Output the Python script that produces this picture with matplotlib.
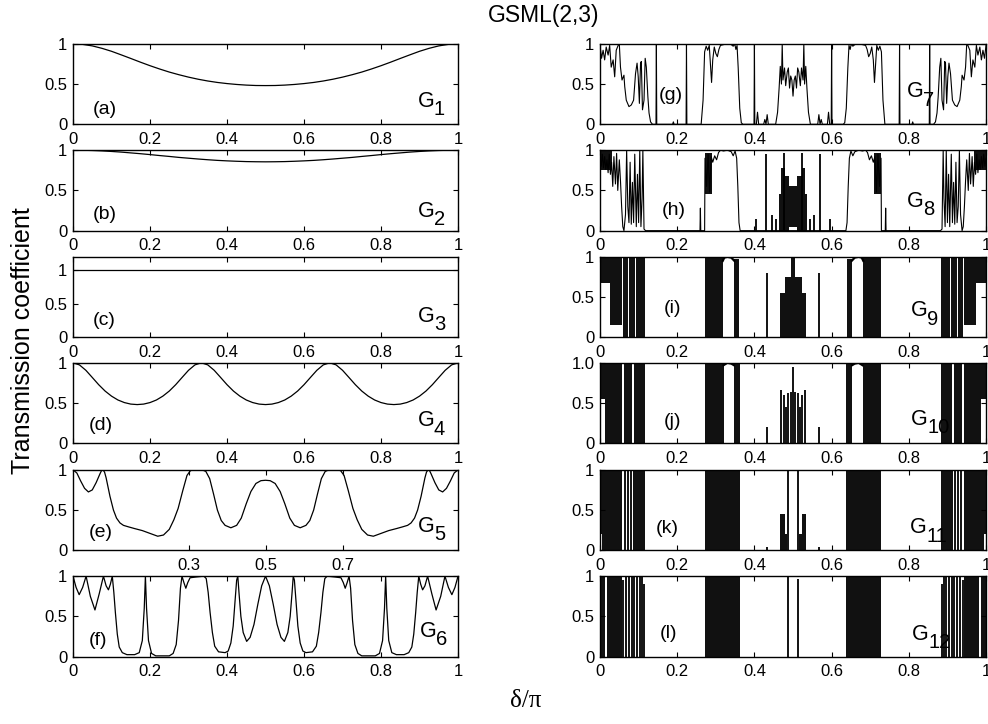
import numpy as np
import matplotlib
matplotlib.use("Agg")
import matplotlib.pyplot as plt

plt.rcParams["font.family"] = ["Liberation Sans", "DejaVu Sans"]
plt.rcParams["font.size"] = 12

# ---------------- data ----------------
# left column: smooth transmission curves G1..G6
a_x = np.linspace(0, 1, 41)
a_y = [1.000, 0.993, 0.974, 0.944, 0.907, 0.863, 0.818, 0.772, 0.728, 0.687,
       0.649, 0.616, 0.586, 0.560, 0.538, 0.520, 0.506, 0.495, 0.487, 0.482,
       0.481, 0.482, 0.487, 0.495, 0.506, 0.520, 0.538, 0.560, 0.586, 0.616,
       0.649, 0.687, 0.728, 0.772, 0.818, 0.863, 0.907, 0.944, 0.974, 0.993,
       1.000]

b_x = np.linspace(0, 1, 41)
b_y = [1.000, 0.999, 0.996, 0.991, 0.984, 0.976, 0.966, 0.956, 0.945, 0.933,
       0.922, 0.910, 0.900, 0.890, 0.881, 0.873, 0.867, 0.862, 0.858, 0.856,
       0.855, 0.856, 0.858, 0.862, 0.867, 0.873, 0.881, 0.890, 0.900, 0.910,
       0.922, 0.933, 0.945, 0.956, 0.966, 0.976, 0.984, 0.991, 0.996, 0.999,
       1.000]

c_x = [0.0, 1.0]
c_y = [1.0, 1.0]

d_x = np.linspace(0, 1, 61)
d_y = [1.000, 0.974, 0.907, 0.818, 0.728, 0.649, 0.586, 0.538, 0.506, 0.487,
       0.481, 0.487, 0.506, 0.538, 0.586, 0.649, 0.728, 0.818, 0.907, 0.974,
       1.000, 0.974, 0.907, 0.818, 0.728, 0.649, 0.586, 0.538, 0.506, 0.487,
       0.481, 0.487, 0.506, 0.538, 0.586, 0.649, 0.728, 0.818, 0.907, 0.974,
       1.000, 0.974, 0.907, 0.818, 0.728, 0.649, 0.586, 0.538, 0.506, 0.487,
       0.481, 0.487, 0.506, 0.538, 0.586, 0.649, 0.728, 0.818, 0.907, 0.974,
       1.000]

e_x = [0.000, 0.010, 0.020, 0.030, 0.040, 0.050, 0.060, 0.070, 0.074, 0.078,
       0.082, 0.086, 0.096, 0.105, 0.113, 0.122, 0.131, 0.145, 0.160, 0.180,
       0.200, 0.220, 0.235, 0.250, 0.262, 0.273, 0.285, 0.296, 0.305, 0.315,
       0.335, 0.345, 0.355, 0.365, 0.375, 0.385, 0.395, 0.410, 0.425, 0.437,
       0.450, 0.462, 0.475, 0.488, 0.500,
       0.512, 0.525, 0.538, 0.550, 0.563, 0.575, 0.590, 0.605, 0.615, 0.625,
       0.635, 0.645, 0.655, 0.665, 0.685, 0.695, 0.704, 0.715, 0.727, 0.738,
       0.750, 0.765, 0.780, 0.800, 0.820, 0.840, 0.855, 0.869, 0.878, 0.887,
       0.895, 0.904, 0.914, 0.918, 0.922, 0.926, 0.930, 0.940, 0.950, 0.960,
       0.970, 0.980, 0.990, 1.000]
e_y = [1.00, 0.96, 0.86, 0.77, 0.725, 0.75, 0.84, 0.95, 0.99, 1.00,
       0.97, 0.90, 0.67, 0.50, 0.40, 0.34, 0.31, 0.29, 0.27, 0.245,
       0.21, 0.175, 0.19, 0.26, 0.38, 0.52, 0.74, 0.93, 0.99, 1.00,
       1.00, 0.98, 0.89, 0.70, 0.50, 0.37, 0.31, 0.28, 0.31, 0.40,
       0.58, 0.73, 0.83, 0.865, 0.87,
       0.865, 0.83, 0.73, 0.58, 0.40, 0.31, 0.28, 0.31, 0.37, 0.50,
       0.70, 0.89, 0.98, 1.00, 1.00, 0.99, 0.93, 0.74, 0.52, 0.38,
       0.26, 0.19, 0.175, 0.21, 0.245, 0.27, 0.29, 0.31, 0.34, 0.40,
       0.50, 0.67, 0.90, 0.97, 1.00, 0.99, 0.95, 0.84, 0.75, 0.725,
       0.77, 0.86, 0.96, 1.00]

f_x = [0.000, 0.008, 0.016, 0.025, 0.034, 0.045, 0.057, 0.068, 0.079, 0.086,
       0.092, 0.097, 0.102, 0.106, 0.110, 0.115, 0.120, 0.128, 0.140, 0.160,
       0.172, 0.180, 0.185, 0.188, 0.191, 0.196, 0.204, 0.215, 0.250, 0.260,
       0.268, 0.274, 0.279, 0.283, 0.288, 0.293, 0.298, 0.304, 0.320, 0.340,
       0.346, 0.351, 0.356, 0.362, 0.368, 0.378, 0.395, 0.403, 0.410, 0.416,
       0.421, 0.425, 0.428, 0.431, 0.436, 0.442, 0.451, 0.460, 0.470, 0.480,
       0.490, 0.500,
       0.510, 0.520, 0.530, 0.540, 0.549, 0.558, 0.564, 0.569, 0.572, 0.575,
       0.579, 0.584, 0.590, 0.597, 0.605, 0.622, 0.632, 0.638, 0.644, 0.649,
       0.654, 0.660, 0.680, 0.696, 0.702, 0.707, 0.712, 0.717, 0.721, 0.726,
       0.732, 0.740, 0.750, 0.785, 0.796, 0.804, 0.809, 0.812, 0.815, 0.820,
       0.828, 0.840, 0.860, 0.872, 0.880, 0.885, 0.890, 0.894, 0.898, 0.903,
       0.908, 0.914, 0.921, 0.932, 0.943, 0.955, 0.966, 0.975, 0.984, 0.992,
       1.000]
f_y = [1.00, 0.86, 0.77, 0.86, 1.00, 0.75, 0.58, 0.78, 1.00, 0.88,
       0.83, 0.90, 1.00, 0.80, 0.55, 0.28, 0.12, 0.05, 0.025, 0.025,
       0.05, 0.20, 0.60, 1.00, 0.60, 0.20, 0.04, 0.01, 0.01, 0.04,
       0.15, 0.45, 0.85, 1.00, 0.92, 0.85, 0.92, 0.98, 0.99, 1.00,
       0.97, 0.80, 0.55, 0.30, 0.13, 0.06, 0.05, 0.07, 0.17, 0.38,
       0.70, 0.95, 1.00, 0.80, 0.50, 0.30, 0.19, 0.24, 0.40, 0.65,
       0.88, 1.00,
       0.88, 0.65, 0.40, 0.24, 0.19, 0.30, 0.50, 0.80, 1.00, 0.95,
       0.70, 0.38, 0.17, 0.07, 0.05, 0.06, 0.13, 0.30, 0.55, 0.80,
       0.97, 1.00, 0.99, 0.98, 0.92, 0.85, 0.92, 1.00, 0.85, 0.45,
       0.15, 0.04, 0.01, 0.01, 0.04, 0.20, 0.60, 1.00, 0.60, 0.20,
       0.05, 0.025, 0.025, 0.05, 0.12, 0.28, 0.55, 0.80, 1.00, 0.90,
       0.83, 0.88, 1.00, 0.78, 0.58, 0.75, 1.00, 0.86, 0.77, 0.86,
       1.00]

# right column: G7..G12, traced outline (x, T)
g_trace = [
    (0.000, 0.98), (0.004, 0.82), (0.008, 0.92), (0.012, 0.80), (0.016, 0.96),
    (0.021, 0.86), (0.025, 0.98), (0.029, 0.71), (0.034, 0.80), (0.038, 0.59),
    (0.042, 0.92), (0.047, 0.98), (0.050, 1.00), (0.053, 0.71), (0.057, 0.55),
    (0.062, 0.61), (0.064, 0.47), (0.068, 0.30), (0.075, 0.22), (0.081, 0.24),
    (0.087, 0.30), (0.092, 0.63), (0.096, 0.76), (0.099, 0.59), (0.102, 0.26),
    (0.105, 0.76), (0.107, 0.78), (0.110, 0.18), (0.114, 0.30), (0.117, 0.82),
    (0.120, 0.71), (0.124, 0.34), (0.127, 0.14), (0.131, 0.03), (0.136, 0.00),
    (0.145, 0.00), (0.146, 1.00), (0.147, 0.00), (0.188, 0.00), (0.190, 0.03),
    (0.192, 0.00), (0.223, 0.00), (0.224, 1.00), (0.225, 0.00), (0.262, 0.00),
    (0.267, 0.30), (0.271, 0.90), (0.275, 0.97), (0.279, 0.92), (0.283, 0.98),
    (0.286, 0.75), (0.289, 0.52), (0.292, 0.80), (0.296, 0.96), (0.300, 0.88),
    (0.304, 0.84), (0.308, 0.93), (0.312, 0.98), (0.320, 0.99), (0.330, 1.00),
    (0.340, 0.99), (0.345, 0.97), (0.349, 1.00), (0.352, 0.93), (0.355, 0.98),
    (0.358, 0.70), (0.362, 0.20), (0.366, 0.02), (0.370, 0.00), (0.399, 0.00),
    (0.400, 1.00), (0.401, 0.00), (0.405, 0.00), (0.408, 0.15), (0.411, 0.00),
    (0.424, 0.00), (0.427, 0.06), (0.430, 0.00), (0.433, 0.12), (0.436, 0.00),
    (0.455, 0.00), (0.460, 0.15), (0.464, 0.45), (0.467, 0.72), (0.470, 0.50),
    (0.472, 1.00), (0.474, 0.55), (0.478, 0.70), (0.481, 0.48), (0.485, 0.65),
    (0.488, 0.70), (0.491, 0.45), (0.494, 0.60), (0.497, 0.55), (0.500, 0.35),
    (0.503, 0.55), (0.506, 0.60), (0.509, 0.45), (0.512, 0.70), (0.515, 0.65),
    (0.519, 0.48), (0.522, 0.70), (0.526, 0.55), (0.528, 1.00), (0.530, 0.50),
    (0.533, 0.72), (0.536, 0.45), (0.540, 0.15), (0.545, 0.00), (0.564, 0.00),
    (0.567, 0.12), (0.570, 0.00), (0.573, 0.06), (0.576, 0.00), (0.589, 0.00),
    (0.592, 0.15), (0.595, 0.00), (0.599, 0.00), (0.600, 1.00), (0.601, 0.00),
    (0.630, 0.00), (0.634, 0.02), (0.638, 0.20), (0.642, 0.70), (0.645, 0.98),
    (0.648, 0.93), (0.651, 1.00), (0.655, 0.97), (0.660, 0.99), (0.670, 1.00),
    (0.680, 0.99), (0.688, 0.98), (0.692, 0.93), (0.696, 0.84), (0.700, 0.88),
    (0.704, 0.96), (0.708, 0.80), (0.711, 0.52), (0.714, 0.75), (0.717, 0.98),
    (0.721, 0.92), (0.725, 0.97), (0.729, 0.90), (0.733, 0.30), (0.738, 0.00),
    (0.775, 0.00), (0.776, 1.00), (0.777, 0.00), (0.808, 0.00), (0.810, 0.03),
    (0.812, 0.00), (0.853, 0.00), (0.854, 1.00), (0.855, 0.00), (0.864, 0.00),
    (0.869, 0.03), (0.873, 0.14), (0.876, 0.34), (0.880, 0.71), (0.883, 0.82),
    (0.886, 0.30), (0.890, 0.18), (0.893, 0.78), (0.895, 0.76), (0.898, 0.26),
    (0.901, 0.59), (0.904, 0.76), (0.908, 0.63), (0.913, 0.30), (0.919, 0.24),
    (0.925, 0.22), (0.932, 0.30), (0.936, 0.47), (0.938, 0.61), (0.943, 0.55),
    (0.947, 0.71), (0.950, 1.00), (0.953, 0.98), (0.958, 0.92), (0.962, 0.59),
    (0.966, 0.80), (0.971, 0.71), (0.975, 0.98), (0.979, 0.86), (0.984, 0.96),
    (0.988, 0.80), (0.992, 0.92), (0.996, 0.82), (1.000, 0.98)]

h_trace = [
    (0.000, 0.90), (0.003, 0.80), (0.006, 0.95), (0.009, 0.78), (0.012, 0.92),
    (0.015, 0.76), (0.018, 0.88), (0.021, 0.72), (0.024, 0.95), (0.027, 0.70),
    (0.030, 0.85), (0.033, 0.55), (0.036, 0.92), (0.040, 0.58), (0.043, 0.96),
    (0.046, 0.50), (0.050, 0.88), (0.053, 0.62), (0.056, 0.30), (0.059, 0.05),
    (0.062, 0.00), (0.066, 0.20), (0.069, 1.00), (0.072, 0.30), (0.075, 0.10),
    (0.078, 0.85), (0.081, 0.08), (0.084, 0.60), (0.087, 0.10), (0.090, 0.95),
    (0.094, 0.05), (0.097, 0.70), (0.100, 0.10), (0.103, 1.00), (0.106, 0.05),
    (0.109, 0.40), (0.111, 1.00), (0.114, 0.02), (0.118, 0.00),
    (0.259, 0.00), (0.260, 0.28), (0.261, 0.00),
    (0.271, 0.00), (0.272, 0.90), (0.276, 0.55), (0.280, 0.95), (0.284, 0.48),
    (0.288, 0.92), (0.292, 0.85), (0.297, 0.93), (0.302, 0.88), (0.307, 0.97),
    (0.312, 1.00), (0.320, 0.99), (0.330, 1.00), (0.340, 0.98), (0.345, 0.93),
    (0.350, 0.99), (0.354, 0.90), (0.357, 0.55), (0.360, 0.10), (0.363, 0.00),
    (0.637, 0.00), (0.640, 0.10), (0.643, 0.55), (0.646, 0.90), (0.650, 0.99),
    (0.655, 0.93), (0.660, 0.98), (0.670, 1.00), (0.680, 0.99), (0.688, 1.00),
    (0.693, 0.97), (0.698, 0.88), (0.703, 0.93), (0.708, 0.85), (0.712, 0.92),
    (0.716, 0.48), (0.720, 0.95), (0.724, 0.55), (0.728, 0.90), (0.729, 0.00),
    (0.739, 0.00), (0.740, 0.28), (0.741, 0.00),
    (0.882, 0.00), (0.886, 0.02), (0.889, 1.00), (0.891, 0.40), (0.894, 0.05),
    (0.897, 1.00), (0.900, 0.10), (0.903, 0.70), (0.906, 0.05), (0.910, 0.95),
    (0.913, 0.10), (0.916, 0.60), (0.919, 0.08), (0.922, 0.85), (0.925, 0.10),
    (0.928, 0.30), (0.931, 1.00), (0.934, 0.20), (0.938, 0.00), (0.941, 0.05),
    (0.944, 0.30), (0.947, 0.62), (0.950, 0.88), (0.954, 0.50), (0.957, 0.96),
    (0.960, 0.58), (0.964, 0.92), (0.967, 0.55), (0.970, 0.85), (0.973, 0.70),
    (0.976, 0.95), (0.979, 0.72), (0.982, 0.88), (0.985, 0.76), (0.988, 0.92),
    (0.991, 0.78), (0.994, 0.95), (0.997, 0.80), (1.000, 0.90)]

# dense (near solid black) regions: (x_from, x_to, T_low, T_high)
h_bands = [(0.000, 0.030, 0.75, 1.00), (0.272, 0.290, 0.45, 0.97),
           (0.463, 0.470, 0.00, 0.45), (0.470, 0.478, 0.00, 0.78),
           (0.478, 0.490, 0.00, 0.68), (0.490, 0.510, 0.05, 0.55),
           (0.510, 0.522, 0.00, 0.68), (0.522, 0.530, 0.00, 0.78),
           (0.530, 0.537, 0.00, 0.45), (0.710, 0.728, 0.45, 0.97),
           (0.970, 1.000, 0.75, 1.00)]
i_bands = [(0.000, 0.025, 0.68, 1.00), (0.025, 0.058, 0.15, 1.00),
           (0.060, 0.073, 0.00, 1.00), (0.076, 0.090, 0.00, 1.00),
           (0.093, 0.116, 0.00, 1.00), (0.272, 0.318, 0.00, 1.00),
           (0.348, 0.361, 0.00, 0.97), (0.466, 0.478, 0.00, 0.55),
           (0.478, 0.494, 0.00, 0.75), (0.494, 0.506, 0.00, 1.00),
           (0.506, 0.522, 0.00, 0.75), (0.522, 0.534, 0.00, 0.55),
           (0.639, 0.652, 0.00, 0.97), (0.682, 0.728, 0.00, 1.00),
           (0.884, 0.907, 0.00, 1.00), (0.910, 0.924, 0.00, 1.00),
           (0.927, 0.940, 0.00, 1.00), (0.942, 0.975, 0.15, 1.00),
           (0.975, 1.000, 0.68, 1.00)]
j_bands = [(0.000, 0.012, 0.55, 1.00), (0.012, 0.058, 0.00, 1.00),
           (0.062, 0.084, 0.00, 1.00), (0.088, 0.116, 0.00, 1.00),
           (0.272, 0.320, 0.00, 1.00), (0.347, 0.362, 0.00, 1.00),
           (0.638, 0.653, 0.00, 1.00), (0.680, 0.728, 0.00, 1.00),
           (0.884, 0.912, 0.00, 1.00), (0.916, 0.938, 0.00, 1.00),
           (0.942, 0.988, 0.00, 1.00), (0.988, 1.000, 0.55, 1.00)]
k_bands = [(0.000, 0.006, 0.20, 1.00), (0.006, 0.058, 0.00, 1.00),
           (0.085, 0.116, 0.00, 1.00), (0.272, 0.362, 0.00, 1.00),
           (0.466, 0.478, 0.00, 0.45), (0.478, 0.484, 0.00, 0.20),
           (0.516, 0.522, 0.00, 0.20), (0.522, 0.534, 0.00, 0.45),
           (0.638, 0.728, 0.00, 1.00), (0.884, 0.915, 0.00, 1.00),
           (0.942, 0.994, 0.00, 1.00), (0.994, 1.000, 0.20, 1.00)]
l_bands = [(0.000, 0.013, 0.00, 1.00), (0.017, 0.056, 0.00, 1.00),
           (0.272, 0.362, 0.00, 1.00), (0.638, 0.728, 0.00, 1.00),
           (0.944, 0.983, 0.00, 1.00), (0.987, 1.000, 0.00, 1.00)]

# isolated narrow resonances: (x, T_peak)
h_spikes = [(0.403, 0.15), (0.430, 0.95), (0.445, 0.20), (0.455, 0.15),
            (0.476, 0.97), (0.524, 0.97), (0.545, 0.15), (0.555, 0.20),
            (0.570, 0.95), (0.597, 0.15)]
i_spikes = [(0.432, 0.80), (0.568, 0.80)]
j_spikes = [(0.432, 0.20), (0.470, 0.66), (0.476, 0.60), (0.482, 0.45),
            (0.488, 0.62), (0.494, 0.64), (0.500, 0.95), (0.506, 0.64),
            (0.512, 0.62), (0.518, 0.45), (0.524, 0.60), (0.530, 0.66),
            (0.568, 0.20)]
k_spikes = [(0.065, 1.00), (0.072, 1.00), (0.080, 1.00), (0.432, 0.04),
            (0.486, 1.00), (0.514, 1.00), (0.568, 0.04), (0.920, 1.00),
            (0.928, 1.00), (0.935, 1.00)]
l_spikes = [(0.060, 0.95), (0.067, 1.00), (0.076, 1.00), (0.082, 1.00),
            (0.088, 1.00), (0.095, 1.00), (0.104, 1.00), (0.110, 1.00),
            (0.114, 0.90), (0.488, 1.00), (0.512, 0.97), (0.886, 0.90),
            (0.890, 1.00), (0.896, 1.00), (0.905, 1.00), (0.912, 1.00),
            (0.918, 1.00), (0.924, 1.00), (0.933, 1.00), (0.940, 0.95)]

# flat tops near T = 1 above the white windows
i_domes = [[(0.318, 0.95), (0.322, 0.99), (0.330, 1.00), (0.340, 0.99), (0.348, 0.95)],
           [(0.652, 0.95), (0.660, 0.99), (0.670, 1.00), (0.678, 0.99), (0.682, 0.95)]]
j_domes = [[(0.320, 0.97), (0.330, 1.00), (0.340, 0.99), (0.347, 0.97)],
           [(0.653, 0.97), (0.660, 0.99), (0.670, 1.00), (0.680, 0.97)]]

x_ticks = [0, 0.2, 0.4, 0.6, 0.8, 1]
x_labels = ["0", "0.2", "0.4", "0.6", "0.8", "1"]
e_ticks = [0.3, 0.5, 0.7]
e_labels = ["0.3", "0.5", "0.7"]

# ---------------- figure ----------------
fig = plt.figure(figsize=(9.88, 7.24), dpi=100)

row_bottoms = [0.8283, 0.6814, 0.5341, 0.3877, 0.2399, 0.0930]
ax_h = 0.1112


def style(ax, xt=x_ticks, xtl=x_labels, ytl=("0", "0.5", "1"), ytop=1.0):
    ax.set_xlim(0, 1)
    ax.set_ylim(0, ytop)
    ax.set_xticks(xt)
    ax.set_xticklabels(xtl)
    ax.set_yticks([0, 0.5, 1])
    ax.set_yticklabels(ytl)
    ax.tick_params(direction="in", top=True, right=True, length=3.5,
                   width=0.8, labelsize=12)
    ax.tick_params(axis="x", pad=5.5)
    ax.tick_params(axis="y", pad=4)
    for s in ax.spines.values():
        s.set_linewidth(1.0)
        s.set_zorder(5)


def glabel(ax, x, y, n):
    ax.text(x, y, "G", transform=ax.transAxes, fontsize=15.5, va="baseline", zorder=6)
    ax.annotate(str(n), xy=(x, y), xycoords="axes fraction", xytext=(11.8, -6),
                textcoords="offset points", fontsize=14.5, va="baseline", zorder=6)


def plabel(ax, x, y, s):
    ax.text(x, y, s, transform=ax.transAxes, fontsize=14, va="center", zorder=6)


def dense(ax, trace=None, bands=(), spikes=(), domes=()):
    if trace:
        tx, ty = zip(*trace)
        ax.plot(tx, ty, color="k", lw=0.8)
    for x0, x1, lo, hi in bands:
        ax.bar(x0, hi - lo, width=x1 - x0, bottom=lo, align="edge",
               color="#111111", linewidth=0)
    if spikes:
        sx, sy = zip(*spikes)
        ax.vlines(sx, 0, sy, color="k", lw=1.3)
    for d in domes:
        dx, dy = zip(*d)
        ax.plot(dx, dy, color="k", lw=1.6)


left = [fig.add_axes([0.0739, b, 0.3897, ax_h]) for b in row_bottoms]
right = [fig.add_axes([0.6073, b, 0.3907, ax_h]) for b in row_bottoms]

curves = [(a_x, a_y), (b_x, b_y), (c_x, c_y), (d_x, d_y), (e_x, e_y), (f_x, f_y)]
for ax, (cx, cy) in zip(left, curves):
    ax.plot(cx, cy, color="k", lw=0.9)

style(left[0]); style(left[1]); style(left[2], ytop=1.2); style(left[3])
style(left[4], xt=e_ticks, xtl=e_labels); style(left[5])

dense(right[0], trace=g_trace)
dense(right[1], trace=h_trace, bands=h_bands, spikes=h_spikes)
dense(right[2], bands=i_bands, spikes=i_spikes, domes=i_domes)
dense(right[3], bands=j_bands, spikes=j_spikes, domes=j_domes)
dense(right[4], bands=k_bands, spikes=k_spikes)
dense(right[5], bands=l_bands, spikes=l_spikes)
for i, ax in enumerate(right):
    style(ax, ytl=("0", "0.5", "1.0") if i == 3 else ("0", "0.5", "1"))

# panel letters and generation labels
plabel(left[0], 0.051, 0.19, "(a)")
plabel(left[1], 0.051, 0.196, "(b)")
plabel(left[2], 0.051, 0.21, "(c)")
plabel(left[3], 0.042, 0.22, "(d)")
plabel(left[4], 0.042, 0.22, "(e)")
plabel(left[5], 0.042, 0.20, "(f)")
plabel(right[0], 0.151, 0.354, "(g)")
plabel(right[1], 0.160, 0.25, "(h)")
plabel(right[2], 0.164, 0.354, "(i)")
plabel(right[3], 0.164, 0.27, "(j)")
plabel(right[4], 0.144, 0.266, "(k)")
plabel(right[5], 0.155, 0.284, "(l)")

glabel(left[0], 0.895, 0.219, 1)
glabel(left[1], 0.895, 0.175, 2)
glabel(left[2], 0.895, 0.195, 3)
glabel(left[3], 0.895, 0.21, 4)
glabel(left[4], 0.895, 0.23, 5)
glabel(left[5], 0.900, 0.25, 6)
glabel(right[0], 0.795, 0.335, 7)
glabel(right[1], 0.795, 0.30, 8)
glabel(right[2], 0.805, 0.26, 9)
glabel(right[3], 0.805, 0.23, 10)
glabel(right[4], 0.803, 0.21, 11)
glabel(right[5], 0.808, 0.21, 12)

fig.text(0.5506, 0.979, "GSML(2,3)", ha="center", va="center", fontsize=16.5)
fig.text(0.0233, 0.530, "Transmission coefficient", rotation=90,
         ha="center", va="center", fontsize=18)
fig.text(0.5324, 0.032, "δ/π", ha="center", va="center", fontsize=18,
         family=["Liberation Serif", "DejaVu Serif"])

fig.savefig("out.png", dpi=100)
